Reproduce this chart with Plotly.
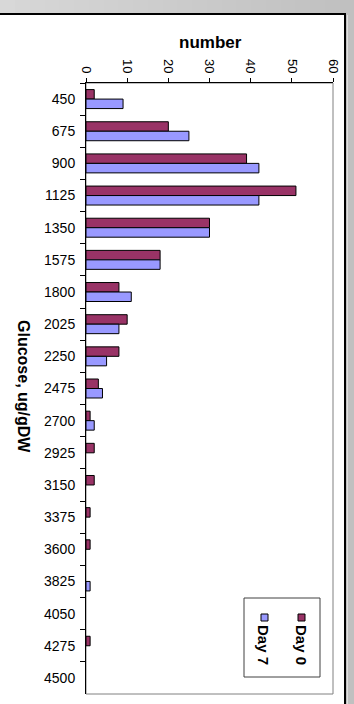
import plotly.graph_objects as go

# Glucose bins (ug/gDW) and counts for the two sampling days
glucose_bins = ["450", "675", "900", "1125", "1350", "1575", "1800", "2025", "2250",
                "2475", "2700", "2925", "3150", "3375", "3600", "3825", "4050", "4275", "4500"]
day0_counts = [2, 20, 39, 51, 30, 18, 8, 10, 8, 3, 1, 2, 2, 1, 1, 0, 0, 1, 0]
day7_counts = [9, 25, 42, 42, 30, 18, 11, 8, 5, 4, 2, 0, 0, 0, 0, 1, 0, 0, 0]
number_ticks = [0, 10, 20, 30, 40, 50, 60]

W, H = 354, 704
PL, PR, PT, PB = 86, 333, 83, 694  # plot area edges in pixels


def fx(px):
    return (px - PL) / (PR - PL)


def fy(py):
    return (PB - py) / (PB - PT)


def nonzero(values):
    # empty bins get no bar at all (avoids a stray outline at zero)
    return [v if v else None for v in values]


DAY0 = "#993366"
DAY7 = "#9999FF"
FONT = "Liberation Sans, Arial, sans-serif"

fig = go.Figure()
fig.add_trace(go.Bar(y=glucose_bins, x=nonzero(day0_counts), orientation="h", name="Day 0",
                     marker=dict(color=DAY0, line=dict(color="#000000", width=1))))
fig.add_trace(go.Bar(y=glucose_bins, x=nonzero(day7_counts), orientation="h", name="Day 7",
                     marker=dict(color=DAY7, line=dict(color="#000000", width=1))))

shapes = []
# grey backdrop with a soft horizontal gradient along the top strip
n = 24
for i in range(n):
    c = int(0xD8 - (0xD8 - 0xC0) * i / (n - 1))
    shapes.append(dict(type="rect", xref="paper", yref="paper", layer="below",
                       x0=fx(i * W / n), x1=fx((i + 1) * W / n + 1), y0=fy(0), y1=fy(H),
                       line=dict(width=0), fillcolor=f"rgb({c},{c},{c})"))
# white chart area with dark top and right border
shapes.append(dict(type="rect", xref="paper", yref="paper", layer="below",
                   x0=fx(-2), x1=fx(345), y0=fy(14), y1=fy(H + 4),
                   line=dict(color="#000000", width=2), fillcolor="#FFFFFF"))
shapes.append(dict(type="line", xref="paper", yref="paper", layer="below",
                   x0=fx(347.5), x1=fx(347.5), y0=fy(15), y1=fy(H),
                   line=dict(color="#E0E0E0", width=1)))
# plot area frame
shapes.append(dict(type="rect", xref="paper", yref="paper", layer="below",
                   x0=0, x1=1, y0=0, y1=1, line=dict(color="#808080", width=1)))
# legend box and swatches
shapes.append(dict(type="rect", xref="paper", yref="paper",
                   x0=fx(244), x1=fx(320), y0=fy(677), y1=fy(598),
                   line=dict(color="#404040", width=1), fillcolor="#FFFFFF"))
shapes.append(dict(type="rect", xref="paper", yref="paper",
                   x0=fx(298), x1=fx(305), y0=fy(621), y1=fy(614),
                   line=dict(color="#000000", width=1), fillcolor=DAY0))
shapes.append(dict(type="rect", xref="paper", yref="paper",
                   x0=fx(261), x1=fx(268), y0=fy(621), y1=fy(614),
                   line=dict(color="#000000", width=1), fillcolor=DAY7))

annotations = [
    dict(text="<b>number</b>", xref="paper", yref="paper", x=fx(210), y=fy(42),
         showarrow=False, font=dict(size=17, color="#000000", family=FONT),
         xanchor="center", yanchor="middle"),
    dict(text="<b>Glucose, ug/gDW</b>", xref="paper", yref="paper", x=fx(24), y=fy(386),
         showarrow=False, textangle=90, font=dict(size=16, color="#000000", family=FONT),
         xanchor="center", yanchor="middle"),
    dict(text="<b>Day 0</b>", xref="paper", yref="paper", x=fx(302), y=fy(645),
         showarrow=False, textangle=90, font=dict(size=15, color="#000000", family=FONT),
         xanchor="center", yanchor="middle"),
    dict(text="<b>Day 7</b>", xref="paper", yref="paper", x=fx(264), y=fy(645),
         showarrow=False, textangle=90, font=dict(size=15, color="#000000", family=FONT),
         xanchor="center", yanchor="middle"),
]

fig.update_layout(
    width=W, height=H,
    margin=dict(l=PL, r=W - PR, t=PT, b=H - PB),
    paper_bgcolor="#C8C8C8", plot_bgcolor="rgba(0,0,0,0)",
    barmode="group", bargap=0.41, bargroupgap=0,
    showlegend=False,
    font=dict(family=FONT, color="#000000"),
    shapes=shapes, annotations=annotations,
    xaxis=dict(side="top", range=[0, 60], tickvals=number_ticks,
               ticktext=[str(v) for v in number_ticks], tickangle=90,
               ticks="outside", ticklen=4, tickcolor="#000000",
               showline=True, linecolor="#000000", linewidth=1,
               showgrid=False, zeroline=False, tickfont=dict(size=13)),
    yaxis=dict(type="category", categoryorder="array", categoryarray=glucose_bins,
               range=[len(glucose_bins) - 0.5, -0.5],
               ticks="outside", tickson="boundaries", ticklen=5, tickcolor="#000000",
               ticklabelstandoff=7,
               showline=True, linecolor="#000000", linewidth=1,
               showgrid=False, zeroline=False, tickfont=dict(size=14)),
)

fig.write_html("out.html")
